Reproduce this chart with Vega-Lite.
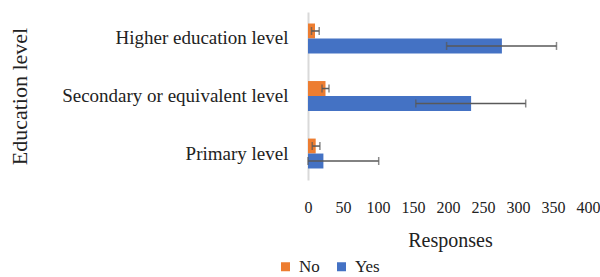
{
  "$schema": "https://vega.github.io/schema/vega-lite/v6.json",
  "autosize": "none",
  "width": 280,
  "height": 168,
  "padding": {"left": 308, "top": 12, "right": 12, "bottom": 97},
  "background": "white",
  "config": {
    "view": {"stroke": null},
    "font": "Liberation Serif",
    "style": {
      "guide-label": {"font": "Liberation Serif"},
      "guide-title": {"font": "Liberation Serif"}
    },
    "axis": {"labelFont": "Liberation Serif", "titleFont": "Liberation Serif"},
    "legend": {"labelFont": "Liberation Serif", "titleFont": "Liberation Serif"},
    "axisX": {
      "labelFont": "Liberation Serif",
      "titleFont": "Liberation Serif",
      "labelFontSize": 16,
      "labelColor": "#222",
      "labelPadding": 19,
      "labelOverlap": false,
      "labelFlush": false,
      "ticks": false,
      "domain": false,
      "grid": false,
      "titleFontSize": 20,
      "titleFontWeight": "normal",
      "titleColor": "#222",
      "titleX": 142,
      "titleY": 66,
      "titleBaseline": "alphabetic",
      "titleAlign": "center"
    }
  },
  "data": {
    "values": [
      {"level": "Higher education level", "series": "No", "value": 10, "low": 5, "high": 16},
      {"level": "Higher education level", "series": "Yes", "value": 277, "low": 198, "high": 355},
      {"level": "Secondary or equivalent level", "series": "No", "value": 25, "low": 20, "high": 30},
      {"level": "Secondary or equivalent level", "series": "Yes", "value": 233, "low": 154, "high": 311},
      {"level": "Primary level", "series": "No", "value": 11, "low": 6, "high": 17},
      {"level": "Primary level", "series": "Yes", "value": 22, "low": 0, "high": 101}
    ]
  },
  "encoding": {
    "y": {
      "field": "level",
      "type": "nominal",
      "sort": ["Higher education level", "Secondary or equivalent level", "Primary level"],
      "scale": {"paddingInner": 0.48},
      "axis": {
        "title": "Education level",
        "titleFont": "Liberation Serif",
        "titleFontSize": 22,
        "titleFontWeight": "normal",
        "titleColor": "#222",
        "titleAngle": -90,
        "titleAlign": "center",
        "titleBaseline": "middle",
        "titleX": -289,
        "titleY": 84,
        "labelFont": "Liberation Serif",
        "labelFontSize": 19,
        "labelColor": "#222",
        "labelPadding": 20,
        "labelLimit": 400,
        "ticks": false,
        "domain": true,
        "domainColor": "#D9D9D9",
        "domainWidth": 2
      }
    },
    "yOffset": {"field": "series", "sort": ["No", "Yes"], "scale": {"paddingInner": 0, "paddingOuter": 0}}
  },
  "layer": [
    {
      "mark": {"type": "bar"},
      "encoding": {
        "x": {
          "field": "value",
          "type": "quantitative",
          "scale": {"domain": [0, 400]},
          "axis": {"title": "Responses", "labelFont": "Liberation Serif", "titleFont": "Liberation Serif", "values": [0, 50, 100, 150, 200, 250, 300, 350, 400]}
        },
        "color": {
          "field": "series",
          "type": "nominal",
          "sort": ["No", "Yes"],
          "scale": {"domain": ["No", "Yes"], "range": ["#ED7D31", "#4472C4"]},
          "legend": {
            "title": null,
            "orient": "none",
            "direction": "horizontal",
            "legendX": -31,
            "legendY": 246,
            "symbolType": "square",
            "symbolSize": 81,
            "symbolStrokeWidth": 0,
            "labelFont": "Liberation Serif",
            "labelFontSize": 17,
            "labelColor": "#222",
            "labelOffset": 5,
            "columnPadding": 13
          }
        }
      }
    },
    {
      "mark": {"type": "rule", "color": "#595959", "strokeWidth": 1.5},
      "encoding": {
        "x": {"field": "low", "type": "quantitative", "axis": {"title": "Responses", "labelFont": "Liberation Serif", "titleFont": "Liberation Serif", "values": [0, 50, 100, 150, 200, 250, 300, 350, 400]}},
        "x2": {"field": "high"}
      }
    },
    {
      "mark": {"type": "tick", "color": "#595959", "thickness": 1.5, "size": 8},
      "encoding": {"x": {"field": "low", "type": "quantitative", "axis": {"title": "Responses", "labelFont": "Liberation Serif", "titleFont": "Liberation Serif", "values": [0, 50, 100, 150, 200, 250, 300, 350, 400]}}}
    },
    {
      "mark": {"type": "tick", "color": "#595959", "thickness": 1.5, "size": 8},
      "encoding": {"x": {"field": "high", "type": "quantitative", "axis": {"title": "Responses", "labelFont": "Liberation Serif", "titleFont": "Liberation Serif", "values": [0, 50, 100, 150, 200, 250, 300, 350, 400]}}}
    }
  ]
}
